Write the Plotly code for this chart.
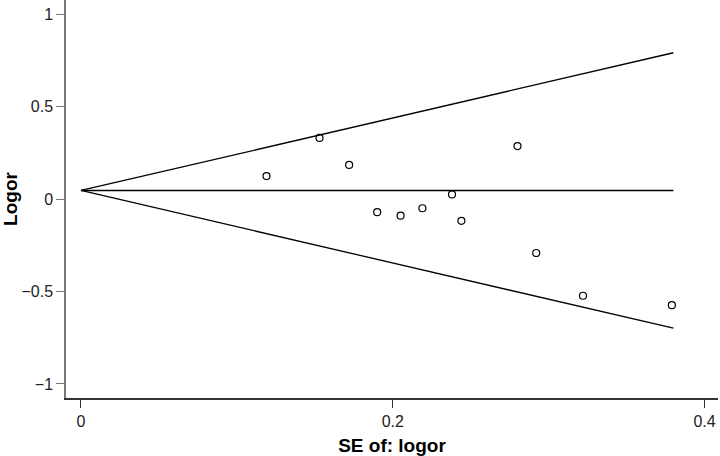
import plotly.graph_objects as go

# Begg's funnel plot data
se_logor = [0.119, 0.153, 0.172, 0.190, 0.205, 0.219, 0.238, 0.244, 0.280, 0.292, 0.322, 0.379]
logor = [0.124, 0.330, 0.184, -0.071, -0.090, -0.050, 0.025, -0.118, 0.286, -0.292, -0.523, -0.574]
pooled = 0.046
se_limits = [0, 0.38]

upper = [pooled + 1.96 * s for s in se_limits]
lower = [pooled - 1.96 * s for s in se_limits]

line_style = dict(color="black", width=1.3)

fig = go.Figure()
fig.add_trace(go.Scatter(x=se_limits, y=upper, mode="lines", line=line_style, hoverinfo="skip"))
fig.add_trace(go.Scatter(x=se_limits, y=lower, mode="lines", line=line_style, hoverinfo="skip"))
fig.add_trace(go.Scatter(x=se_limits, y=[pooled, pooled], mode="lines", line=line_style, hoverinfo="skip"))
fig.add_trace(
    go.Scatter(
        x=se_logor,
        y=logor,
        mode="markers",
        marker=dict(symbol="circle-open", size=7, color="black", line=dict(width=1.2)),
    )
)

fig.update_layout(
    width=720,
    height=456,
    showlegend=False,
    plot_bgcolor="white",
    paper_bgcolor="white",
    margin=dict(l=66, r=2, t=0, b=58, autoexpand=False),
    font=dict(family="Liberation Sans, Arial, sans-serif", size=16, color="black"),
)
fig.update_xaxes(
    range=[-0.0096, 0.4086],
    tickvals=[0, 0.2, 0.4],
    ticktext=["0", "0.2", "0.4"],
    tickfont=dict(size=16, color="#222222"),
    automargin=False,
    showgrid=False,
    zeroline=False,
    showline=True,
    linecolor="#333333",
    linewidth=1.5,
    ticks="outside",
    ticklen=8,
    tickcolor="#333333",
    title=dict(text="<b>SE of: logor</b>", font=dict(size=19), standoff=10),
)
fig.update_yaxes(
    range=[-1.076, 1.076],
    tickvals=[-1, -0.5, 0, 0.5, 1],
    ticktext=["\u22121", "\u22120.5", "0", "0.5", "1"],
    tickfont=dict(size=16, color="#222222"),
    automargin=False,
    showgrid=False,
    zeroline=False,
    showline=True,
    linecolor="#777777",
    linewidth=1.5,
    ticks="outside",
    ticklen=8,
    tickcolor="#777777",
    title=dict(text="<b>Logor</b>", font=dict(size=19), standoff=8),
)

# remove the default page margin so the figure sits at the top-left corner
fig.write_html(
    "out.html",
    config={"displayModeBar": False},
    post_script="document.body.style.margin='0';",
)
